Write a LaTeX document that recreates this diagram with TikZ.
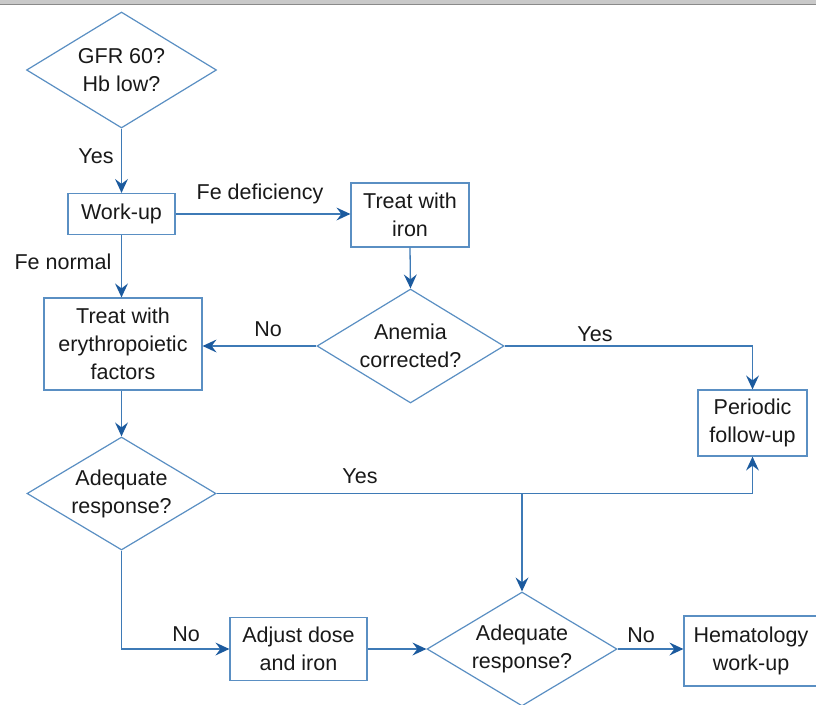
\documentclass[tikz,border=0pt]{standalone}
\usepackage{fontspec}
\setmainfont{Liberation Sans}
\usetikzlibrary{shapes.geometric,arrows.meta}
\definecolor{boxblue}{HTML}{5A8FC3}
\definecolor{lineblue}{HTML}{3E7AB6}
\definecolor{tipblue}{HTML}{1B5A9E}
\definecolor{barfill}{HTML}{C9C9C9}
\definecolor{barline}{HTML}{8A8A8A}
\tikzset{
  txt/.style={font=\fontsize{21.5}{28}\selectfont, text=black!90, align=center},
  boxnode/.style={txt, draw=boxblue, line width=1.2pt, rectangle, inner sep=0pt},
  decision/.style={txt, draw=boxblue, line width=1.2pt, diamond, shape aspect=1.64, inner sep=0pt},
  tipshape/.tip={Stealth[length=14pt,width=13pt,inset=5pt,color=tipblue,line width=0pt]},
  conn/.style={draw=lineblue, line width=1.3pt, -tipshape},
  lbl/.style={txt, inner sep=0pt}
}
\begin{document}
\begin{tikzpicture}[x=1pt,y=-1pt]
\useasboundingbox (0,0) rectangle (816,704);
\fill[white] (0,0) rectangle (816,704);
\begin{scope}
\clip (0,0) rectangle (816,704);
\fill[barfill] (0,0) rectangle (816,4);
\draw[barline, line width=1pt] (0,4.5) -- (816,4.5);

% nodes
\node[decision, minimum width=190pt, minimum height=116pt] (gfr) at (121.5,70) {GFR 60?\\Hb low?};
\node[boxnode, minimum width=107pt, minimum height=41pt] (work) at (121.5,214) {Work-up};
\node[boxnode, minimum width=118pt, minimum height=64pt] (iron) at (410,215) {Treat with\\iron};
\node[decision, minimum width=187pt, minimum height=114pt] (anemia) at (410.5,346) {Anemia\\corrected?};
\node[boxnode, minimum width=158pt, minimum height=92pt] (ery) at (123,344) {Treat with\\erythropoietic\\factors};
\node[boxnode, minimum width=109pt, minimum height=66pt] (periodic) at (752.5,423) {Periodic\\follow-up};
\node[decision, minimum width=189pt, minimum height=113pt] (adq1) at (121.5,493.5) {Adequate\\response?};
\node[boxnode, minimum width=137pt, minimum height=63pt] (adjust) at (298.5,649) {Adjust dose\\and iron};
\node[decision, minimum width=190pt, minimum height=114pt] (adq2) at (522,649) {Adequate\\response?};
\node[boxnode, minimum width=134pt, minimum height=70pt] (hema) at (751,651) {Hematology\\work-up};

% labels
\node[lbl] (lyes1) at (96,156) {Yes};
\node[lbl] (lfedef) at (260,194) {Fe deficiency};
\node[lbl] (lfenorm) at (63,262) {Fe normal};
\node[lbl] (lno1) at (268,329) {No};
\node[lbl] (lyes2) at (595,334) {Yes};
\node[lbl] (lyes3) at (360,476) {Yes};
\node[lbl] (lno2) at (186,634) {No};
\node[lbl] (lno3) at (641,635) {No};

% connectors
\draw[conn] (gfr.south) -- (work.north);
\draw[conn] (work.east) -- (work.east -| iron.west);
\draw[conn] (iron.south) -- (anemia.north);
\draw[conn] (anemia.west) -- (anemia.west -| ery.east);
\draw[conn] (anemia.east) -| (periodic.north);
\draw[conn] (work.south) -- (work.south |- ery.north);
\draw[conn] (adq1.north |- ery.south) -- (adq1.north);
\draw[conn] (adq1.east) -| (periodic.south);
\coordinate (branch) at (adq1.east -| adq2.north);
\draw[conn] (branch) -- (adq2.north);
\draw[conn] (adq1.south) |- (adjust.west);
\draw[conn] (adjust.east) -- (adjust.east -| adq2.west);
\draw[conn] (adq2.east) -- (adq2.east -| hema.west);
\end{scope}
\end{tikzpicture}
\end{document}
